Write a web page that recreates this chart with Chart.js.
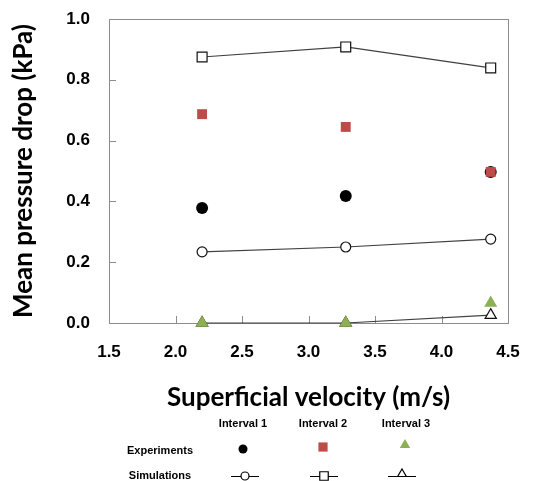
<!DOCTYPE html>
<html>
<head>
<meta charset="utf-8">
<script src="https://cdn.jsdelivr.net/npm/chart.js@4/dist/chart.umd.min.js"></script>
<style>
html,body{margin:0;padding:0;background:#fff;}
#wrap{width:547px;height:481px;position:relative;}
</style>
</head>
<body>
<div id="wrap"><canvas id="c" width="547" height="481"></canvas></div>
<script>
const velocities = [2.2, 3.28, 4.37];
const expInterval1 = [0.378, 0.418, 0.497];
const expInterval2 = [0.687, 0.645, 0.497];
const expInterval3 = [0.0, 0.0, 0.066];
const simInterval1 = [0.234, 0.250, 0.276];
const simInterval2 = [0.875, 0.908, 0.839];
const simInterval3 = [0.0, 0.0, 0.026];
const xTicks = [1.5, 2.0, 2.5, 3.0, 3.5, 4.0, 4.5];
const yTicks = [0.0, 0.2, 0.4, 0.6, 0.8, 1.0];
const columnLabels = ['Interval 1', 'Interval 2', 'Interval 3'];
const rowLabels = ['Experiments', 'Simulations'];

const pts = arr => arr.map((v, i) => ({x: velocities[i], y: v}));
const RED = '#BE4B48', GREEN = '#8EAF52', LINE = '#404040';

const datasets = [
  {label:'Exp 3', data: pts(expInterval3), pointStyle:'triangle', pointRadius:7.5, backgroundColor:GREEN, borderColor:GREEN, borderWidth:0, showLine:false},
  {label:'Exp 2', data: pts(expInterval2), pointStyle:'rect', pointRadius:7, backgroundColor:RED, borderColor:RED, borderWidth:0, showLine:false},
  {label:'Exp 1', data: pts(expInterval1), pointStyle:'circle', pointRadius:6, backgroundColor:'#000', borderColor:'#000', borderWidth:0, showLine:false},
  {label:'Sim 1', data: pts(simInterval1), pointStyle:'circle', pointRadius:5, backgroundColor:'#fff', borderColor:'#222', pointBorderWidth:1.2, borderWidth:1.2, showLine:true},
  {label:'Sim 2', data: pts(simInterval2), pointStyle:'rect', pointRadius:7, backgroundColor:'#fff', borderColor:'#222', pointBorderWidth:1.2, borderWidth:1.2, showLine:true},
  {label:'Sim 3', data: pts(simInterval3), pointStyle:'triangle', pointRadius:6.5, backgroundColor:'#fff', borderColor:'#222', pointBorderWidth:1.2, borderWidth:1.2, showLine:true}
].map(d => Object.assign({clip:false, pointHoverRadius:d.pointRadius, borderColor:d.borderColor}, d));
datasets.forEach(d => { if (d.showLine) d.borderColor = LINE; d.pointBorderColor = d.showLine ? '#111' : d.backgroundColor; });

function marker(ctx, style, r, x, y, fill, stroke, lw) {
  ctx.save();
  ctx.beginPath();
  if (style === 'circle') ctx.arc(x, y, r, 0, Math.PI * 2);
  else if (style === 'rect') { const s = r * Math.SQRT1_2; ctx.rect(x - s, y - s, 2 * s, 2 * s); }
  else if (style === 'triangle') {
    let a = 0;
    ctx.moveTo(x + Math.sin(a) * r, y - Math.cos(a) * r);
    a += 2 * Math.PI / 3; ctx.lineTo(x + Math.sin(a) * r, y - Math.cos(a) * r);
    a += 2 * Math.PI / 3; ctx.lineTo(x + Math.sin(a) * r, y - Math.cos(a) * r);
  }
  ctx.closePath();
  ctx.fillStyle = fill; ctx.fill();
  if (lw) { ctx.lineWidth = lw; ctx.strokeStyle = stroke; ctx.stroke(); }
  ctx.restore();
}

const framePlugin = {
  id: 'frame',
  beforeDatasetsDraw(chart) {
    const {ctx, chartArea: a, scales} = chart;
    ctx.save();
    ctx.strokeStyle = '#8c8c8c';
    ctx.lineWidth = 1;
    ctx.strokeRect(Math.round(a.left) + 0.5, Math.round(a.top) + 0.5, Math.round(a.right - a.left), Math.round(a.bottom - a.top));
    ctx.beginPath();
    yTicks.forEach(v => {
      const y = Math.round(scales.y.getPixelForValue(v)) + 0.5;
      ctx.moveTo(a.left, y); ctx.lineTo(a.left + 7, y);
    });
    xTicks.forEach(v => {
      const x = Math.round(scales.x.getPixelForValue(v)) + 0.5;
      ctx.moveTo(x, a.bottom); ctx.lineTo(x, a.bottom - 7);
    });
    ctx.stroke();
    ctx.restore();
  },
  afterDraw(chart) {
    const ctx = chart.ctx;
    ctx.save();
    ctx.fillStyle = '#000';
    ctx.font = 'bold 11px "Liberation Sans Narrow", "Liberation Sans", Arial, sans-serif';
    ctx.textAlign = 'center';
    ctx.textBaseline = 'middle';
    const cols = [243, 323, 406];
    columnLabels.forEach((t, i) => ctx.fillText(t, cols[i], 424));
    ctx.fillText(rowLabels[0], 160, 451);
    ctx.fillText(rowLabels[1], 160, 476);
    // experiments row
    marker(ctx, 'circle', 4.5, 243, 449, '#000', null, 0);
    marker(ctx, 'rect', 6.5, 323, 447, RED, null, 0);
    marker(ctx, 'triangle', 6, 405, 445, GREEN, null, 0);
    // simulations row
    const simY = [476, 476, 474];
    const simStyles = ['circle', 'rect', 'triangle'];
    const simR = [4, 6, 5];
    const simX = [245, 324, 402];
    simStyles.forEach((s, i) => {
      ctx.beginPath();
      ctx.strokeStyle = '#000'; ctx.lineWidth = 1;
      ctx.moveTo(simX[i] - 14, simY[i] + (s === 'triangle' ? 2 : 0) + 0.5);
      ctx.lineTo(simX[i] + 14, simY[i] + (s === 'triangle' ? 2 : 0) + 0.5);
      ctx.stroke();
      marker(ctx, s, simR[i], simX[i], simY[i], '#fff', '#000', 1.2);
    });
    ctx.restore();
  }
};

new Chart(document.getElementById('c'), {
  type: 'scatter',
  data: { datasets },
  options: {
    responsive: false,
    animation: false,
    events: [],
    layout: { padding: { top: 19, right: 39, bottom: 0, left: 0 } },
    plugins: { legend: { display: false }, tooltip: { enabled: false } },
    scales: {
      x: {
        type: 'linear', min: 1.5, max: 4.5,
        afterFit: s => { s.height = 158; s.paddingLeft = 0; s.paddingRight = 0; },
        afterBuildTicks: s => { s.ticks = xTicks.map(v => ({value: v})); },
        grid: { display: false, drawTicks: false },
        border: { display: false },
        ticks: { padding: 19, color: '#000', font: { family: '"Liberation Sans", Arial, sans-serif', size: 17, weight: 'bold' }, callback: v => v.toFixed(1) },
        title: { display: true, text: 'Superficial velocity (m/s)', color: '#000', font: { family: 'Lato, "Open Sans", sans-serif', size: 26, weight: 'bold' }, padding: { top: 0, bottom: 68 } }
      },
      y: {
        type: 'linear', min: 0, max: 1.0,
        afterFit: s => { s.width = 109; s.paddingTop = 0; s.paddingBottom = 0; },
        afterBuildTicks: s => { s.ticks = yTicks.map(v => ({value: v})); },
        grid: { display: false, drawTicks: false },
        border: { display: false },
        ticks: { padding: 19, color: '#000', font: { family: '"Liberation Sans", Arial, sans-serif', size: 17, weight: 'bold' }, callback: v => v.toFixed(1) },
        title: { display: true, text: 'Mean pressure drop (kPa)', color: '#000', font: { family: 'Lato, "Open Sans", sans-serif', size: 26, weight: 'bold' }, padding: { top: 8, bottom: 0 } }
      }
    }
  },
  plugins: [framePlugin]
});
</script>
</body>
</html>
